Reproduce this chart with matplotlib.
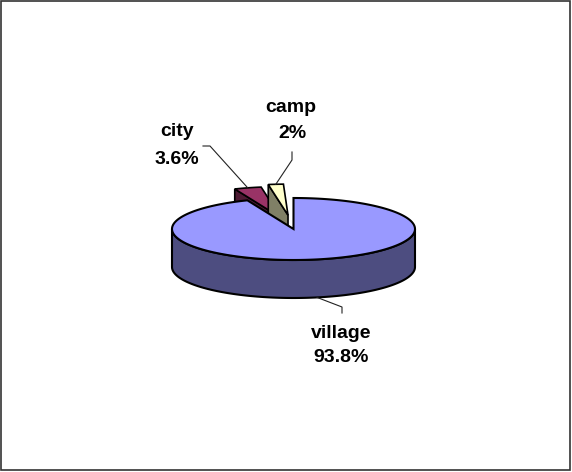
import matplotlib.pyplot as plt
import numpy as np
from matplotlib.patches import Polygon, Rectangle

# data
labels = ['village', 'city', 'camp']
values = [93.8, 3.6, 2.0]
explode = [0.0, 0.38, 0.45]
top_colors = ['#9999FF', '#993366', '#FFFFCC']
side_colors = ['#4D4D80', '#4D1A33', '#808066']

# pie geometry in pixel space (fake 3d, excel style)
cx, cy = 293.5, 229.0
a, b = 121.5, 31.0
depth = 38.0

plt.rcParams['font.family'] = ['Liberation Sans', 'DejaVu Sans']

fig = plt.figure(figsize=(5.72, 4.72), dpi=100)
ax = fig.add_axes([0, 0, 1, 1])
ax.set_xlim(0, 572)
ax.set_ylim(472, 0)
ax.axis('off')


def pt(theta, dx=0.0, dy=0.0, z=0.0):
    t = np.radians(theta)
    return cx + a * np.cos(t) + dx, cy - b * np.sin(t) + dy + z


def arc(t1, t2, dx=0.0, dy=0.0, z=0.0, n=120):
    th = np.linspace(t1, t2, n)
    xs, ys = pt(th, dx, dy, z)
    return list(zip(xs, ys))


# slice angles, clockwise from 12 o'clock (percent of a full circle)
frac = np.array(values) / 100.0
slices = []
start = 90.0
for i in range(len(values)):
    end = start - 360 * frac[i]
    lo, hi = end, start
    mid = (lo + hi) / 2
    dx = a * explode[i] * np.cos(np.radians(mid))
    dy = -b * explode[i] * np.sin(np.radians(mid))
    slices.append((lo, hi, mid, dx, dy))
    start = end

# exploded small slices first (they sit behind the big one)
for i in [1, 2]:
    lo, hi, mid, dx, dy = slices[i]
    c = (cx + dx, cy + dy)
    r_top = pt(hi, dx, dy)
    r_bot = pt(hi, dx, dy, depth)
    wall = [c, r_top, r_bot, (c[0], c[1] + depth)]
    ax.add_patch(Polygon(wall, closed=True, facecolor=side_colors[i],
                         edgecolor='black', linewidth=1.2))
    top = [c] + arc(lo, hi, dx, dy)
    ax.add_patch(Polygon(top, closed=True, facecolor=top_colors[i],
                         edgecolor='black', linewidth=1.2))

# big slice: front band then top face
lo, hi, mid, dx, dy = slices[0]
band = arc(180, 360) + arc(360, 180, z=depth)
ax.add_patch(Polygon(band, closed=True, facecolor=side_colors[0],
                     edgecolor='black', linewidth=1.5))
top = [(cx, cy)] + arc(lo, hi, n=400)
ax.add_patch(Polygon(top, closed=True, facecolor=top_colors[0],
                     edgecolor='black', linewidth=1.5))

# labels + leader lines
def pct(v):
    return ('%g' % v) + '%'

font = dict(fontsize=14, fontweight='bold', ha='center', va='center', color='black')

# village
x0, y0 = pt(slices[0][2], z=depth)
ax.plot([x0, 342, 342], [y0, 307, 313], color='#222222', linewidth=0.8)
ax.text(341, 333, labels[0], **font)
ax.text(341, 358, pct(values[0]), **font)

# city
lo, hi, mid, dx, dy = slices[1]
x1, y1 = pt(mid, dx, dy)
ax.plot([x1, 210, 203], [y1, 146, 146], color='#222222', linewidth=0.8)
ax.text(177, 132, labels[1], **font)
ax.text(177, 159, pct(values[1]), **font)

# camp
lo, hi, mid, dx, dy = slices[2]
x2, y2 = pt(mid, dx, dy)
ax.plot([x2, 292, 292], [y2, 160, 152], color='#222222', linewidth=0.8)
ax.text(291, 107, labels[2], **font)
ax.text(292, 133, pct(values[2]), **font)

# outer frame
ax.add_patch(Rectangle((1, 1), 569, 469, fill=False, edgecolor='#333333', linewidth=1.2))

fig.savefig('out.png', dpi=100)
